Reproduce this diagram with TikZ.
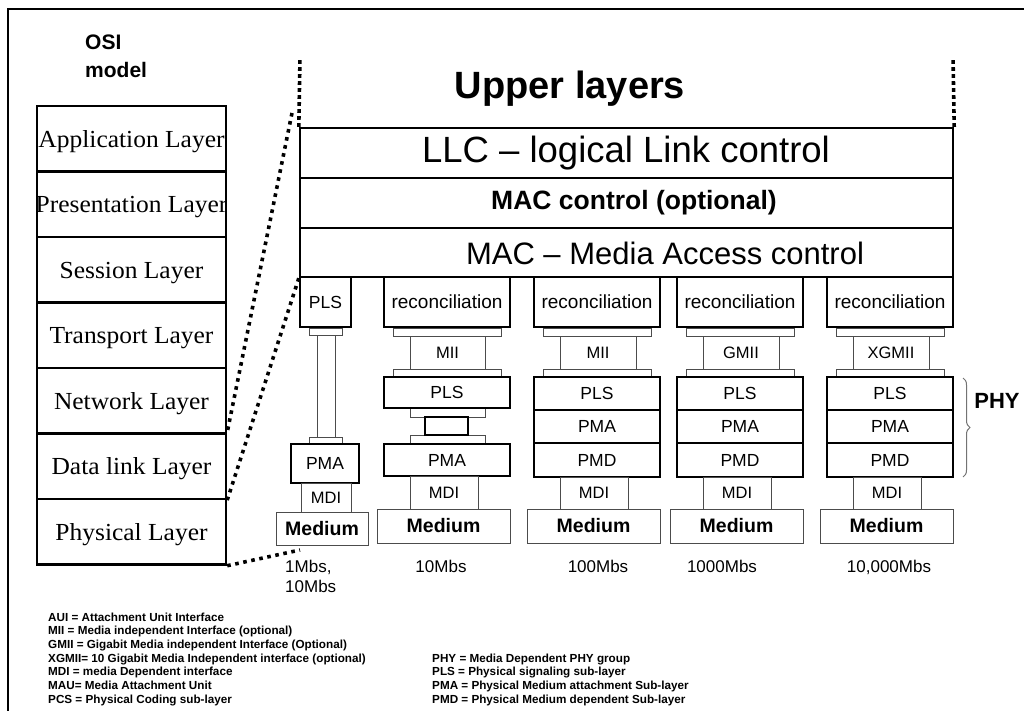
\documentclass[tikz,border=0pt]{standalone}
\usepackage{fontspec}
\setmainfont{Liberation Serif}
\setsansfont{Liberation Sans}
\usetikzlibrary{decorations.pathreplacing}
\newcommand\fsz[2]{\fontsize{#1}{#2}\selectfont}
\newcommand\ot[1]{\scalebox{1.04}[1]{#1}}
% name, style, x1, y1, x2, y2, text
\newcommand\bx[7]{\node[#2, minimum width={(#5)-(#3)}, minimum height={(#6)-(#4)}] (#1) at ({((#3)+(#5))/2},{((#4)+(#6))/2}) {#7};}
\tikzset{
  thk/.style={draw=black, line width=2.4pt, inner sep=0pt, font=\sffamily\fsz{17.5}{20}},
  thn/.style={draw=black!70, line width=0.9pt, inner sep=0pt, font=\sffamily\fsz{16.5}{20}},
  plate/.style={draw=black!70, line width=0.9pt, inner sep=0pt, fill=white},
  osibox/.style={draw=black, line width=2.4pt, inner sep=0pt},
  ositext/.style={font=\rmfamily\fsz{24.5}{30}, inner sep=0pt, anchor=base},
  dotline/.style={line width=3.6pt, dash pattern=on 3.6pt off 4.6pt},
  vdotline/.style={line width=3.6pt, dash pattern=on 3.6pt off 3.4pt},
  speed/.style={font=\sffamily\fsz{17}{20}, inner sep=0pt, anchor=north},
  legend/.style={font=\sffamily\bfseries\fsz{11.7}{13.67}, inner sep=0pt, anchor=north west, align=left},
  phybrace/.style={decorate, decoration={brace, amplitude=7pt}, draw=black!55, line width=1pt},
}
% standard column: id, left x, interface label
\newcommand\col[3]{%
  \bx{p#1a}{plate}{#2+9}{328}{#2+117}{336}{}
  \bx{p#1b}{plate}{#2+9}{369}{#2+117}{376}{}
  \bx{if#1}{thn}{#2+26}{336}{#2+102}{369}{#3}
  \bx{rec#1}{thk}{#2}{277}{#2+126}{327}{\fsz{19}{20}reconciliation}
  \bx{pls#1}{thk}{#2}{377}{#2+126}{410}{PLS}
  \bx{pma#1}{thk}{#2}{410}{#2+126}{443}{PMA}
  \bx{pmd#1}{thk}{#2}{443}{#2+126}{477}{PMD}
  \bx{mdi#1}{thn}{#2+26}{477}{#2+94}{509}{MDI}
  \bx{med#1}{thn}{#2-7}{509}{#2+126}{543}{\bfseries\fsz{19.5}{20}Medium}
}
\begin{document}
\begin{tikzpicture}[x=1pt,y=-1pt,font=\sffamily]
\useasboundingbox (0,0) rectangle (1024,711);
% frame
\draw[line width=2pt] (8,711) -- (8,9) -- (1024,9);

% OSI title
\node[anchor=north west, align=left, font=\sffamily\bfseries\fsz{21}{28}, inner sep=0pt] (osititle) at (85,35) {OSI\\model};

% OSI layer texts (clipped to the column)
\begin{scope}
\clip (37,106) rectangle (226,565);
\node[ositext] (tapp) at (131.5,147.1) {\ot{Application Layer}};
\node[ositext] (tpres) at (131.5,212.6) {\ot{Presentation Layer}};
\node[ositext] (tsess) at (131.5,278.1) {\ot{Session Layer}};
\node[ositext] (ttrans) at (131.5,343.6) {\ot{Transport Layer}};
\node[ositext] (tnet) at (131.5,409.1) {\ot{Network Layer}};
\node[ositext] (tdl) at (131.5,474.6) {\ot{Data link Layer}};
\node[ositext] (tphys) at (131.5,540.1) {\ot{Physical Layer}};
\end{scope}
\bx{app}{osibox}{37}{106}{226}{171.5}{}
\bx{pres}{osibox}{37}{171.5}{226}{237}{}
\bx{sess}{osibox}{37}{237}{226}{302.5}{}
\bx{trans}{osibox}{37}{302.5}{226}{368}{}
\bx{net}{osibox}{37}{368}{226}{433.5}{}
\bx{dl}{osibox}{37}{433.5}{226}{499}{}
\bx{phys}{osibox}{37}{499}{226}{564.5}{}

% Upper layers
\node[font=\sffamily\bfseries\fsz{38}{40}, anchor=base, inner sep=0pt] (upper) at (570,99) {Upper layers};

% LLC / MAC stack
\bx{llc}{osibox}{300}{128}{953}{178}{}
\bx{macc}{osibox}{300}{178}{953}{228}{}
\bx{mac}{osibox}{300}{228}{953}{277}{}
\node[font=\sffamily\fsz{36.5}{40}, inner sep=0pt] (llct) at (626,153) {LLC – logical Link control};
\node[font=\sffamily\bfseries\fsz{26.5}{30}, inner sep=0pt] (macct) at (634,203) {MAC control (optional)};
\node[font=\sffamily\fsz{31}{40}, inner sep=0pt] (mact) at (665,253) {MAC – Media Access control};

% dotted mapping lines
\coordinate (d1top) at (292,113);
\coordinate (d3end) at (300,550);
\coordinate (vl) at (300,57);
\coordinate (vr) at (953,57);
\draw[dotline] (d1top) -- (dl.north east);
\draw[dotline] (mac.south west) -- (dl.south east);
\draw[dotline] (phys.south east) -- (d3end);
\draw[vdotline] (llc.north west) -- (vl);
\draw[vdotline] (llc.north east) -- (vr);

% column 1 (1Mbs, 10Mbs)
\bx{pA1}{plate}{309}{328}{342}{335}{}
\bx{tubeA}{plate}{317}{335}{335}{437}{}
\bx{pA2}{plate}{309}{437}{342}{444}{}
\bx{plsA}{thk}{300}{277}{351}{327}{PLS}
\bx{pmaA}{thk}{291}{444}{359}{483}{PMA}
\bx{mdiA}{thn}{301}{483}{351}{512}{MDI}
\bx{medA}{thn}{276}{512}{368}{545}{\bfseries\fsz{19.5}{20}Medium}

% column 2 (10Mbs)
\bx{pB1}{plate}{393}{328}{501}{336}{}
\bx{pB2}{plate}{393}{369}{501}{376}{}
\bx{ifB}{thn}{410}{336}{485}{369}{MII}
\bx{pB3}{plate}{410}{408}{485}{417}{}
\bx{pB4}{plate}{410}{435}{485}{444}{}
\bx{recB}{thk}{384}{277}{510}{327}{\fsz{19}{20}reconciliation}
\bx{plsB}{thk}{384}{377}{510}{408}{PLS}
\bx{smallB}{thk}{425}{417}{468}{435}{}
\bx{pmaB}{thk}{384}{444}{510}{476}{PMA}
\bx{mdiB}{thn}{410}{476}{478}{509}{MDI}
\bx{medB}{thn}{377}{509}{510}{543}{\bfseries\fsz{19.5}{20}Medium}

% columns 3-5
\col{C}{534}{MII}
\col{D}{677}{GMII}
\col{E}{827}{XGMII}

% speeds
\node[font=\sffamily\fsz{17}{20}, inner sep=0pt, anchor=north west, align=left] (spA) at (285,560) {1Mbs,\\10Mbs};
\node[speed] (spB) at (441,560) {10Mbs};
\node[speed] (spC) at (598,560) {100Mbs};
\node[speed] (spD) at (722,560) {1000Mbs};
\node[speed] (spE) at (889,560) {10,000Mbs};

% PHY brace
\coordinate (bt) at (963,378);
\coordinate (bb) at (963,477);
\draw[phybrace] (bt) -- (bb);
\node[font=\sffamily\bfseries\fsz{22}{24}, inner sep=0pt] (phy) at (997,401) {PHY};

% legends
\node[legend] (legL) at (48,612.5) {AUI = Attachment Unit Interface\\
MII = Media independent Interface (optional)\\
GMII = Gigabit Media independent Interface (Optional)\\
XGMII= 10 Gigabit Media Independent interface (optional)\\
MDI = media Dependent interface\\
MAU= Media Attachment Unit\\
PCS = Physical Coding sub-layer};
\node[legend] (legR) at (432,653.5) {PHY = Media Dependent PHY group\\
PLS = Physical signaling sub-layer\\
PMA = Physical Medium attachment Sub-layer\\
PMD = Physical Medium dependent Sub-layer};
\end{tikzpicture}
\end{document}
